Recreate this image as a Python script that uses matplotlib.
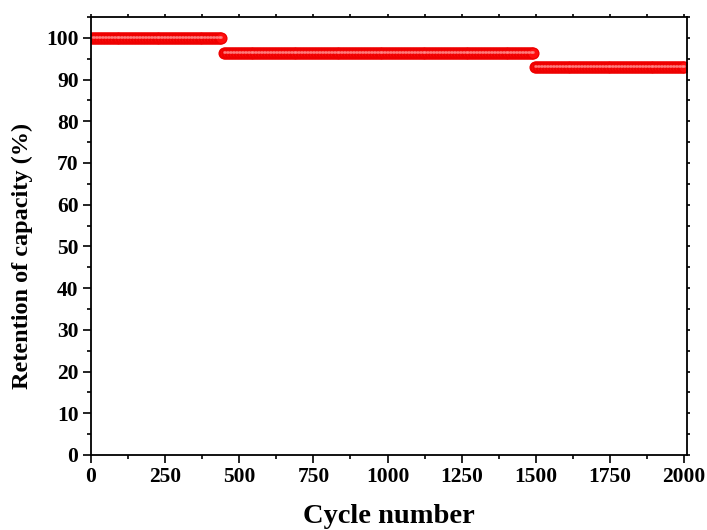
import numpy as np
import matplotlib
matplotlib.use("Agg")
import matplotlib.pyplot as plt
from matplotlib.ticker import MultipleLocator

# Data: step-wise capacity retention, sampled every 5 cycles
segment_start = [1, 448, 1497]
segment_end = [440, 1492, 2000]
segment_level = [100.0, 96.4, 92.9]
sample_step = 5

cycles = []
retention = []
for s, e, v in zip(segment_start, segment_end, segment_level):
    c = list(range(s, e + 1, sample_step))
    if c[-1] != e:
        c.append(e)
    cycles.extend(c)
    retention.extend([v] * len(c))
cycles = np.array(cycles)
retention = np.array(retention)

x_ticks = [0, 250, 500, 750, 1000, 1250, 1500, 1750, 2000]
y_ticks = [0, 10, 20, 30, 40, 50, 60, 70, 80, 90, 100]

plt.rcParams['font.family'] = ['Liberation Serif', 'DejaVu Serif']
plt.rcParams['font.weight'] = 'bold'

fig = plt.figure(figsize=(7.07, 5.30), dpi=100)
ax = fig.add_axes([91/707, 75/530, (687-91)/707, (455-17)/530])

ax.plot(cycles, retention, linestyle='none', marker='o', markersize=7.8,
        markerfacecolor='#ff0d0d', markeredgecolor='#ee0000', markeredgewidth=0.9)
# subtle highlight to mimic shaded spheres
ax.plot(cycles, retention + 0.3, linestyle='none', marker='o', markersize=2.0,
        markerfacecolor='#ff9a9a', markeredgecolor='none', alpha=0.6)

ax.set_xlim(0, 2010)
ax.set_ylim(0, 105)
ax.set_xticks(x_ticks)
ax.set_yticks(y_ticks)
ax.xaxis.set_minor_locator(MultipleLocator(125))
ax.yaxis.set_minor_locator(MultipleLocator(5))

for sp in ax.spines.values():
    sp.set_linewidth(1.3)

ax.tick_params(axis='both', which='major', direction='out', length=6, width=1.2,
               labelsize=15.5, pad=3)
ax.tick_params(axis='both', which='minor', direction='out', length=3, width=1.2)
ax.tick_params(axis='x', which='both', top=True, labeltop=False)
ax.tick_params(axis='y', which='both', right=True, labelright=False)
for t in ax.xaxis.get_major_ticks() + ax.xaxis.get_minor_ticks():
    t.tick2line.set_markersize(2)
for t in ax.yaxis.get_major_ticks() + ax.yaxis.get_minor_ticks():
    t.tick2line.set_markersize(2)

for lab in ax.get_xticklabels() + ax.get_yticklabels():
    lab.set_fontweight('bold')

ax.set_xlabel('Cycle number', fontsize=20.5, fontweight='bold', labelpad=12)
ax.set_ylabel('Retention of capacity (%)', fontsize=17.5, fontweight='bold')
ax.yaxis.set_label_coords(-0.098, 0.455)

fig.savefig('out.png', dpi=100)
